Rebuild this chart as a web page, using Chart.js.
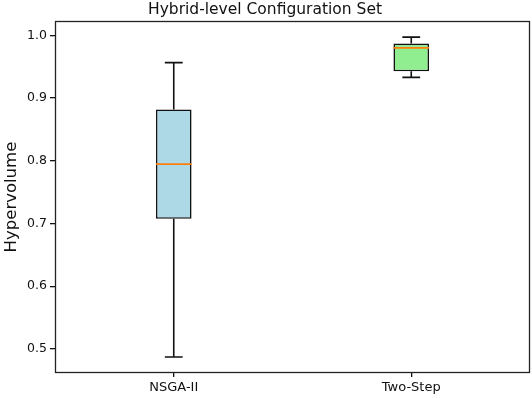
<!DOCTYPE html>
<html>
<head>
<meta charset="utf-8">
<script src="https://cdn.jsdelivr.net/npm/chart.js@4/dist/chart.umd.min.js"></script>
<style>
html,body{margin:0;padding:0;background:#fff;}
#wrap{width:532px;height:398px;position:relative;}
</style>
</head>
<body>
<div id="wrap"><canvas id="c"></canvas></div>
<script>
const categories = ['NSGA-II', 'Two-Step'];
const whiskerLow = [0.487, 0.933];
const q1 = [0.7075, 0.9427];
const median = [0.7946, 0.980];
const q3 = [0.882, 0.987];
const whiskerHigh = [0.9565, 0.9973];
const yTicks = [0.5, 0.6, 0.7, 0.8, 0.9, 1.0];
const boxColors = ['#add8e6', '#90ee90'];

const lo = Math.min(...whiskerLow), hi = Math.max(...whiskerHigh);
const margin = (hi - lo) * 0.05;

const boxPlugin = {
  id: 'boxExtras',
  afterDatasetsDraw(chart) {
    const ctx = chart.ctx;
    const xs = chart.scales.x, ys = chart.scales.y;
    const meta = chart.getDatasetMeta(0);
    ctx.save();
    categories.forEach((c, i) => {
      const x = xs.getPixelForValue(i);
      const bw = meta.data[i].width;
      const cap = bw / 4;
      ctx.strokeStyle = '#111';
      ctx.lineWidth = 1.6;
      ctx.beginPath();
      ctx.moveTo(x, ys.getPixelForValue(q3[i]));
      ctx.lineTo(x, ys.getPixelForValue(whiskerHigh[i]));
      ctx.moveTo(x - cap, ys.getPixelForValue(whiskerHigh[i]));
      ctx.lineTo(x + cap, ys.getPixelForValue(whiskerHigh[i]));
      ctx.moveTo(x, ys.getPixelForValue(q1[i]));
      ctx.lineTo(x, ys.getPixelForValue(whiskerLow[i]));
      ctx.moveTo(x - cap, ys.getPixelForValue(whiskerLow[i]));
      ctx.lineTo(x + cap, ys.getPixelForValue(whiskerLow[i]));
      ctx.stroke();
      ctx.strokeStyle = '#ff7f0e';
      ctx.lineWidth = 1.8;
      ctx.beginPath();
      ctx.moveTo(x - bw / 2, ys.getPixelForValue(median[i]));
      ctx.lineTo(x + bw / 2, ys.getPixelForValue(median[i]));
      ctx.stroke();
    });
    const a = chart.chartArea;
    ctx.strokeStyle = '#222';
    ctx.lineWidth = 1.3;
    ctx.strokeRect(Math.round(a.left) + 0.5, Math.round(a.top) + 0.5, Math.round(a.right - a.left) - 1, Math.round(a.bottom - a.top) - 1);
    ctx.restore();
  }
};

new Chart(document.getElementById('c'), {
  type: 'bar',
  data: {
    labels: categories,
    datasets: [{
      data: categories.map((c, i) => [q1[i], q3[i]]),
      backgroundColor: boxColors,
      borderColor: '#111',
      borderWidth: 1.6,
      borderSkipped: false,
      barPercentage: 0.15,
      categoryPercentage: 1.0
    }]
  },
  options: {
    responsive: true,
    maintainAspectRatio: false,
    animation: false,
    layout: { padding: { left: 0, right: 2, top: 0, bottom: 0 } },
    plugins: {
      legend: { display: false },
      tooltip: { enabled: false },
      title: {
        display: true,
        text: 'Hybrid-level Configuration Set',
        color: '#111',
        font: { family: 'DejaVu Sans', size: 15.5, weight: 'normal', lineHeight: 1.2 },
        padding: { top: 0.5, bottom: 2 }
      }
    },
    scales: {
      x: {
        offset: true,
        grid: { display: true, drawOnChartArea: false, drawTicks: true, tickLength: 4, offset: false, color: '#111', tickColor: '#111', lineWidth: 1.3 },
        border: { display: false },
        ticks: { color: '#111', font: { family: 'DejaVu Sans', size: 13 }, padding: 3, maxRotation: 0 },
        afterFit(s) { s.height = 25; }
      },
      y: {
        min: lo - margin,
        max: hi + margin,
        afterBuildTicks(s) { s.ticks = yTicks.map(v => ({ value: v })); },
        grid: { display: true, drawOnChartArea: false, drawTicks: true, tickLength: 5, color: '#111', tickColor: '#111', lineWidth: 1.3 },
        border: { display: false },
        ticks: { color: '#111', font: { family: 'DejaVu Sans', size: 12.5 }, padding: 3, callback: v => Number(v).toFixed(1) },
        title: {
          display: true,
          text: 'Hypervolume',
          color: '#111',
          font: { family: 'DejaVu Sans', size: 16.5, weight: 'normal', lineHeight: 1.2 },
          padding: { top: 1.5, bottom: 0 }
        },
        afterFit(s) { s.width = 55; }
      }
    }
  },
  plugins: [boxPlugin]
});
</script>
</body>
</html>
